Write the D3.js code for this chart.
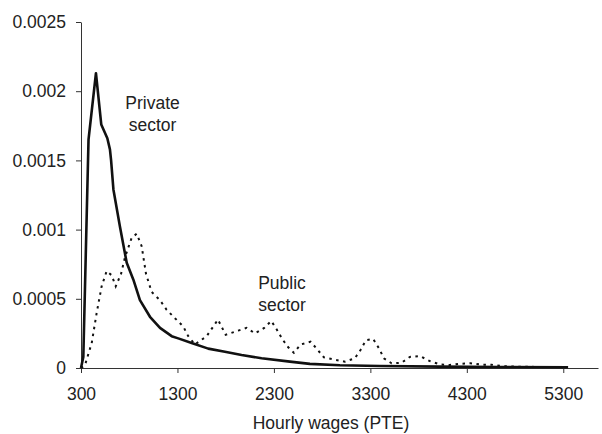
<!DOCTYPE html>
<html>
<head>
<meta charset="utf-8">
<script src="https://cdn.jsdelivr.net/npm/d3@7"></script>
<style>
  html, body { margin: 0; padding: 0; background: #fff; }
  svg { display: block; }
  text { font-family: "Liberation Sans", Arial, Helvetica, sans-serif; fill: #222; }
</style>
</head>
<body>
<svg id="chart" width="602" height="434"></svg>
<script>
// ---- data ----
const xTickValues = [300, 1300, 2300, 3300, 4300, 5300];
const xTickLabels = ["300", "1300", "2300", "3300", "4300", "5300"];
const yTickValues = [0, 0.0005, 0.001, 0.0015, 0.002, 0.0025];
const yTickLabels = ["0", "0.0005", "0.001", "0.0015", "0.002", "0.0025"];
const xTitle = "Hourly wages (PTE)";

// Private sector: [hourly wage, density]
const privateSector = [
  [300, 0], [324, 0.00008], [378, 0.00165], [455, 0.00213], [510, 0.00176],
  [573, 0.00166], [600, 0.00158], [612, 0.0015], [636, 0.00129], [704, 0.00102],
  [774, 0.00076], [842, 0.00064], [911, 0.00049], [1015, 0.00037], [1119, 0.00029],
  [1240, 0.00023], [1308, 0.000214], [1447, 0.00018], [1619, 0.00014], [1792, 0.000118],
  [1965, 0.000094], [2172, 0.00007], [2466, 0.000046], [2673, 0.00003], [2984, 0.00002],
  [3398, 0.000014], [4020, 0.00001], [4642, 0.000007], [5350, 0.000005]
];

// Public sector: [hourly wage, density]
const publicSector = [
  [300, 0], [341, 0.00002], [411, 0.00018], [463, 0.0004], [514, 0.00059],
  [566, 0.0007], [618, 0.00067], [660, 0.00059], [715, 0.00068], [756, 0.0008],
  [825, 0.00094], [877, 0.00097], [929, 0.00088], [974, 0.00068], [1032, 0.00055],
  [1119, 0.00049], [1188, 0.00042], [1274, 0.00036], [1360, 0.0003], [1412, 0.00023],
  [1481, 0.00017], [1603, 0.00023], [1720, 0.00035], [1800, 0.00024], [1930, 0.00027],
  [2017, 0.00029], [2103, 0.00025], [2200, 0.00029], [2272, 0.00034], [2328, 0.00028],
  [2386, 0.00021], [2448, 0.00015], [2507, 0.00011], [2577, 0.00017], [2680, 0.00019],
  [2749, 0.000135], [2818, 0.000077], [2932, 0.00006], [3036, 0.000046], [3139, 0.00007],
  [3198, 0.00013], [3253, 0.0002], [3329, 0.00021], [3391, 0.00014], [3440, 0.00007],
  [3520, 0.000034], [3623, 0.000038], [3709, 0.00008], [3813, 0.000087], [3917, 0.00005],
  [4020, 0.000026], [4124, 0.000022], [4228, 0.00003], [4338, 0.000034], [4452, 0.000024],
  [4556, 0.000024], [4660, 0.000014], [4800, 0.00001], [5000, 0.000008], [5200, 0.000007],
  [5340, 0.000006]
];

const labelPrivate = ["Private", "sector"];
const labelPublic = ["Public", "sector"];

// ---- drawing ----
const svg = d3.select("#chart");
const FONT = 17.5;

const x = d3.scaleLinear().domain([300, 5660]).range([81, 598]);
const y = d3.scaleLinear().domain([0, 0.0025]).range([368, 22]);

// y axis
const yAxis = d3.axisLeft(y)
  .tickValues(yTickValues)
  .tickFormat((d, i) => yTickLabels[i])
  .tickSize(5).tickSizeOuter(0).tickPadding(10);
const gy = svg.append("g").attr("transform", `translate(${x(300)},0)`).call(yAxis);

// x axis
const xAxis = d3.axisBottom(x)
  .tickValues(xTickValues)
  .tickFormat((d, i) => xTickLabels[i])
  .tickSize(5).tickSizeOuter(0).tickPadding(15);
const gx = svg.append("g").attr("transform", `translate(0,${y(0)})`).call(xAxis);

[gx, gy].forEach(g => {
  g.select(".domain").attr("stroke", "#333").attr("stroke-width", 1);
  g.selectAll(".tick line").attr("stroke", "#333").attr("stroke-width", 1);
  g.selectAll(".tick text")
    .style("font-family", '"Liberation Sans", Arial, sans-serif')
    .style("font-size", FONT + "px")
    .attr("fill", "#222");
});

// x axis title
svg.append("text")
  .attr("x", 331).attr("y", 429)
  .attr("text-anchor", "middle")
  .style("font-size", FONT + "px")
  .text(xTitle);

// lines
const line = d3.line().x(d => x(d[0])).y(d => y(d[1])).curve(d3.curveLinear);

svg.append("path")
  .datum(publicSector)
  .attr("d", line)
  .attr("fill", "none")
  .attr("stroke", "#111")
  .attr("stroke-width", 2)
  .attr("stroke-dasharray", "2.5,4.5");

svg.append("path")
  .datum(privateSector)
  .attr("d", line)
  .attr("fill", "none")
  .attr("stroke", "#111")
  .attr("stroke-width", 2.6)
  .attr("stroke-linejoin", "round");

// annotations
function annot(lines, cx, baseY) {
  const t = svg.append("text")
    .attr("text-anchor", "middle")
    .style("font-size", FONT + "px");
  lines.forEach((s, i) => {
    t.append("tspan").attr("x", cx).attr("y", baseY + i * 22).text(s);
  });
}
annot(labelPrivate, 152.5, 109);
annot(labelPublic, 282, 288.5);
</script>
</body>
</html>
